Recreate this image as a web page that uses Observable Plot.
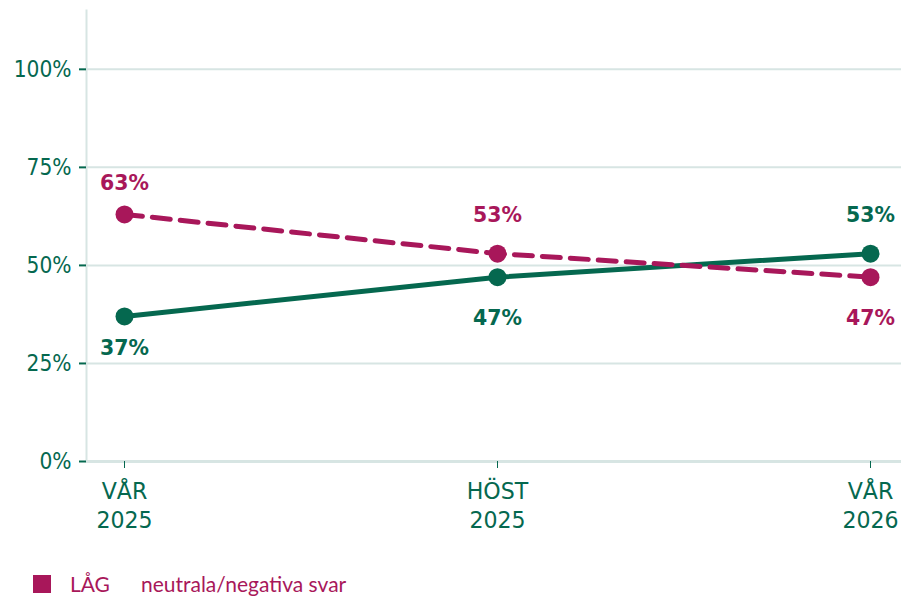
<!DOCTYPE html>
<html>
<head>
<meta charset="utf-8">
<script src="https://cdn.jsdelivr.net/npm/d3@7"></script>
<script src="https://cdn.jsdelivr.net/npm/@observablehq/plot@0.6"></script>
<style>
  body { margin: 0; background: #fff; width: 901px; height: 596px; overflow: hidden; position: relative; }
  #chart svg { display: block; }
  .legend { position: absolute; left: 33px; top: 575px; height: 18px; display: flex; align-items: flex-start; font-family: Lato, "Noto Sans", sans-serif; font-size: 21px; line-height: 18px; color: #a8175a; white-space: nowrap; }
  .legend .sw { width: 18px; height: 18px; background: #a8175a; margin-right: 19px; }
  .legend .name { margin-right: 31px; }
</style>
</head>
<body>
<div id="chart"></div>
<div class="legend"><span class="sw"></span><span class="name">LÅG</span><span>neutrala/negativa svar</span></div>
<script>
const periods = ["VÅR\n2025", "HÖST\n2025", "VÅR\n2026"];
const seriesNames = ["HÖG", "LÅG"];
const hogValues = [37, 47, 53];
const lagValues = [63, 53, 47];
const yTicks = [0, 25, 50, 75, 100];

const green = "#05684f";
const magenta = "#a8175a";
const gridColor = "#d7e5e3";

const rows = [];
periods.forEach((p, i) => {
  rows.push({period: p, value: hogValues[i], series: seriesNames[0], other: lagValues[i], i});
  rows.push({period: p, value: lagValues[i], series: seriesNames[1], other: hogValues[i], i});
});
const hogRows = rows.filter(d => d.series === "HÖG");
const lagRows = rows.filter(d => d.series === "LÅG");

function labelMark(data, color) {
  const above = data.filter(d => d.value >= d.other);
  const below = data.filter(d => d.value < d.other);
  const opts = {x: "period", y: "value", text: d => d.value + "%", fill: color, fontWeight: "bold", fontSize: 22};
  return [
    Plot.text(above.filter(d => d.i === 0), {...opts, dy: -31}),
    Plot.text(above.filter(d => d.i !== 0), {...opts, dy: -39}),
    Plot.text(below.filter(d => d.i === 0), {...opts, dy: 32}),
    Plot.text(below.filter(d => d.i !== 0), {...opts, dy: 41})
  ];
}

const chart = Plot.plot({
  width: 901,
  height: 550,
  marginLeft: 86,
  marginRight: 0,
  marginTop: 10,
  marginBottom: 89,
  style: {fontFamily: "'DejaVu Sans'", fontSize: "23px", color: green, background: "#fff"},
  x: {type: "point", domain: periods, range: [123, 870], padding: 0},
  y: {domain: [0, 115]},
  marks: [
    Plot.gridY(yTicks.filter(d => d > 0), {stroke: gridColor, strokeOpacity: 1, strokeWidth: 2}),
    Plot.frame({anchor: "left", stroke: gridColor, strokeWidth: 2}),
    Plot.ruleY([0], {stroke: gridColor, strokeWidth: 3}),
    Plot.axisY({ticks: yTicks, tickFormat: d => d + "%", tickSize: 7, tickPadding: 8, stroke: green, fill: green, strokeWidth: 2, label: null, fontSize: 23}),
    Plot.axisX({tickSize: 7, tickPadding: 10, stroke: green, fill: green, label: null, fontSize: 23.5, lineHeight: 1.23}),
    Plot.line(hogRows, {x: "period", y: "value", stroke: green, strokeWidth: 5}),
    Plot.line(lagRows, {x: "period", y: "value", stroke: magenta, strokeWidth: 5, strokeDasharray: "18,10"}),
    Plot.dot(hogRows, {x: "period", y: "value", r: 9, fill: green}),
    Plot.dot(lagRows, {x: "period", y: "value", r: 9, fill: magenta}),
    ...labelMark(hogRows, green),
    ...labelMark(lagRows, magenta)
  ]
});
document.getElementById("chart").append(chart);

// The reference typography is horizontally narrowed DejaVu Sans: compress text widths.
function squeeze(selector, factor) {
  chart.querySelectorAll(selector).forEach(t => {
    const spans = t.querySelectorAll("tspan");
    const parts = spans.length ? Array.from(spans) : [t];
    parts.forEach(el => {
      const w = el.getComputedTextLength();
      el.setAttribute("textLength", (w * factor).toFixed(2));
      el.setAttribute("lengthAdjust", "spacingAndGlyphs");
    });
  });
}
squeeze('g[aria-label="y-axis tick label"] text', 0.88);
squeeze('g[aria-label="x-axis tick label"] text', 0.94);
squeeze('g[aria-label="text"] text', 0.93);
</script>
</body>
</html>
